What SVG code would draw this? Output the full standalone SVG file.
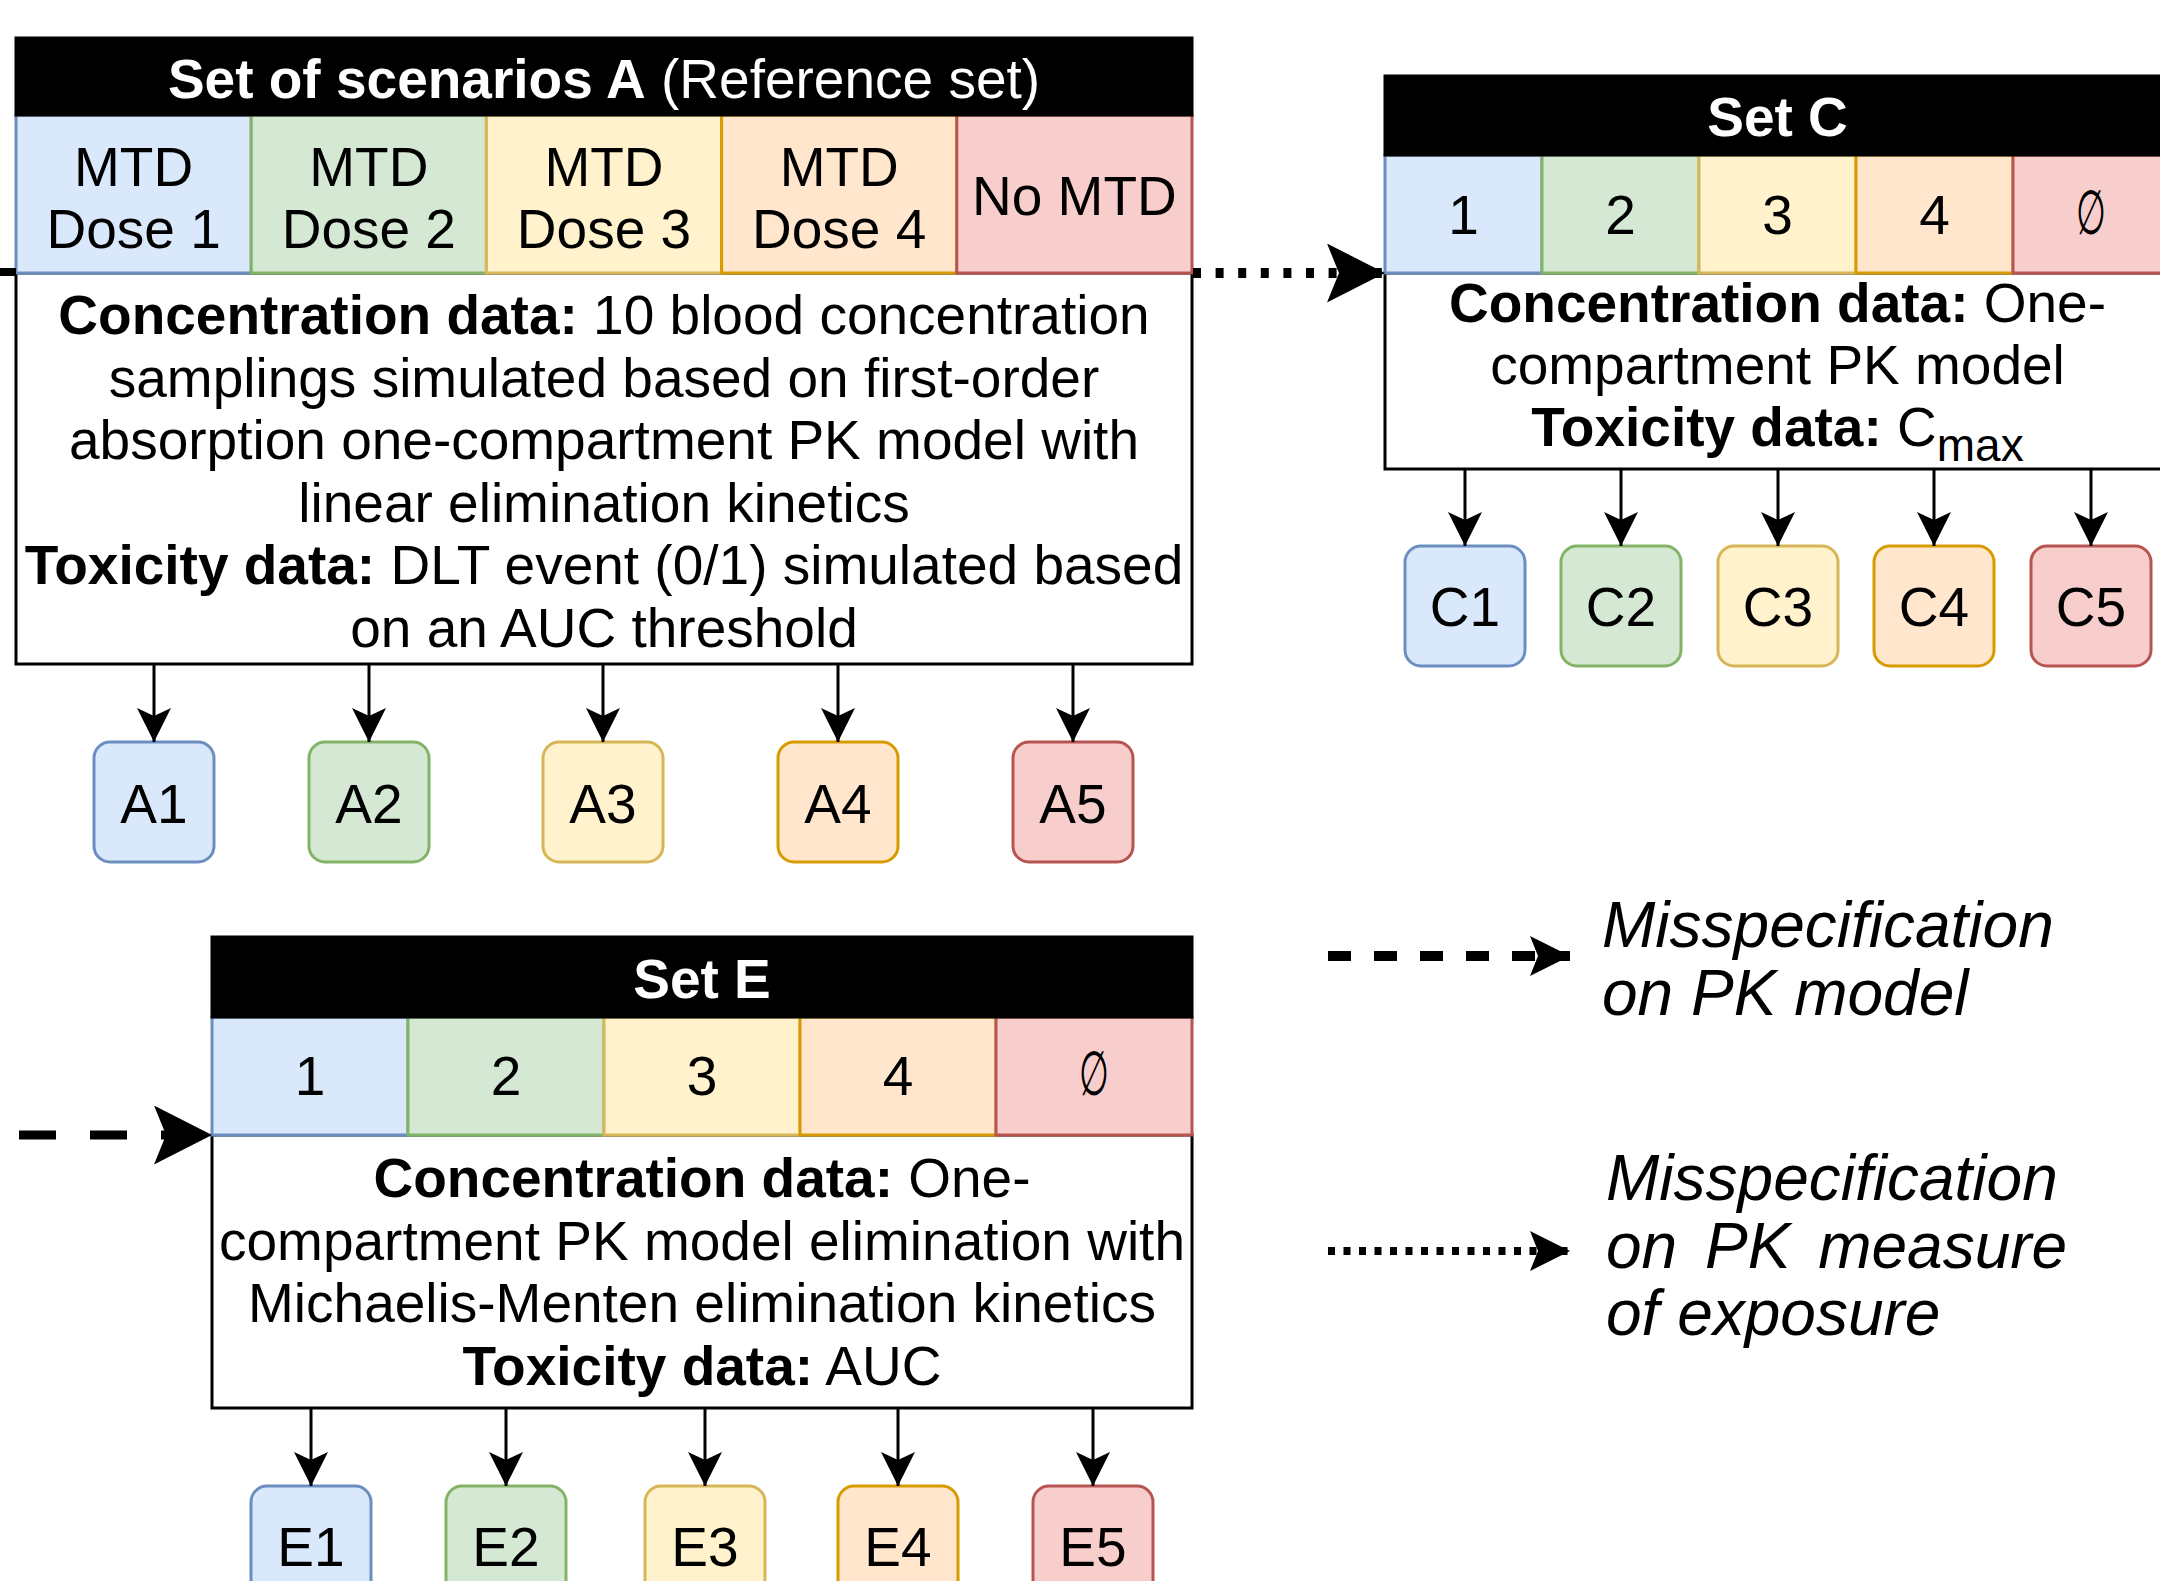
<svg xmlns="http://www.w3.org/2000/svg" width="2160" height="1581" viewBox="0 0 2160 1581">
<defs>
<style>
text { font-family: "Liberation Sans", Arial, Helvetica, sans-serif; font-size: 55px; fill: #000; }
.hd { fill: #fff; font-weight: bold; }
.b { font-weight: bold; }
.lg { font-size: 64px; font-style: italic; }
.box { fill: #fff; stroke: #000; stroke-width: 3; }
.hdr { fill: #000; stroke: #000; stroke-width: 3; }
.blue { fill: #dae8fc; stroke: #6c8ebf; stroke-width: 3; }
.green { fill: #d5e8d4; stroke: #82b366; stroke-width: 3; }
.yellow { fill: #fff2cc; stroke: #d6b656; stroke-width: 3; }
.orange { fill: #ffe6cc; stroke: #d79b00; stroke-width: 3; }
.red { fill: #f8cecc; stroke: #b85450; stroke-width: 3; }
.conn { stroke: #000; stroke-width: 3; fill: none; }
.dotL { stroke: #000; stroke-width: 10; stroke-dasharray: 8 14.6; fill: none; }
.dashL { stroke: #000; stroke-width: 9; stroke-dasharray: 37 34; fill: none; }
.dashM { stroke: #000; stroke-width: 10; stroke-dasharray: 23 23; fill: none; }
.dotM { stroke: #000; stroke-width: 8; stroke-dasharray: 7 8.5; fill: none; }
.mid { text-anchor: middle; }
</style>
<marker id="arrS" markerUnits="userSpaceOnUse" markerWidth="34" markerHeight="34" viewBox="0 0 34 34" refX="34" refY="17" orient="auto"><path d="M0,0 L34,17 L0,34 L8,17 Z" fill="#000"/></marker>
<marker id="arrL" markerUnits="userSpaceOnUse" markerWidth="58" markerHeight="59" viewBox="0 0 58 59" refX="58" refY="29.5" orient="auto"><path d="M0,0 L58,29.5 L0,59 L12,29.5 Z" fill="#000"/></marker>
<marker id="arrM" markerUnits="userSpaceOnUse" markerWidth="40" markerHeight="40" viewBox="0 0 40 40" refX="40" refY="20" orient="auto"><path d="M0,0 L40,20 L0,40 L8,20 Z" fill="#000"/></marker>
</defs>
<rect width="2160" height="1581" fill="#fff"/>

<!-- Set A -->
<g id="setA">
<rect class="box" x="16" y="273" width="1176" height="391"/>
<rect class="blue" x="16" y="115" width="235.2" height="158"/>
<rect class="green" x="251.2" y="115" width="235.2" height="158"/>
<rect class="yellow" x="486.4" y="115" width="235.2" height="158"/>
<rect class="orange" x="721.6" y="115" width="235.2" height="158"/>
<rect class="red" x="956.8" y="115" width="235.2" height="158"/>
<rect class="hdr" x="16" y="38" width="1176" height="77"/>
<text class="mid hd" x="604" y="98"><tspan>Set of scenarios A</tspan><tspan font-weight="normal"> (Reference set)</tspan></text>
<text class="mid" x="133.6" y="186">MTD</text><text class="mid" x="133.6" y="248">Dose 1</text>
<text class="mid" x="368.8" y="186">MTD</text><text class="mid" x="368.8" y="248">Dose 2</text>
<text class="mid" x="604" y="186">MTD</text><text class="mid" x="604" y="248">Dose 3</text>
<text class="mid" x="839.2" y="186">MTD</text><text class="mid" x="839.2" y="248">Dose 4</text>
<text class="mid" x="1074.4" y="215">No MTD</text>
<text class="mid" x="604" y="334"><tspan class="b">Concentration data:</tspan> 10 blood concentration</text>
<text class="mid" x="604" y="396.6">samplings simulated based on first-order</text>
<text class="mid" x="604" y="459.2">absorption one-compartment PK model with</text>
<text class="mid" x="604" y="521.8">linear elimination kinetics</text>
<text class="mid" x="604" y="584.4"><tspan class="b">Toxicity data:</tspan> DLT event (0/1) simulated based</text>
<text class="mid" x="604" y="647">on an AUC threshold</text>
</g>

<!-- Set C -->
<g id="setC">
<rect class="box" x="1385" y="273" width="785" height="196"/>
<rect class="blue" x="1385" y="155" width="157" height="118"/>
<rect class="green" x="1542" y="155" width="157" height="118"/>
<rect class="yellow" x="1699" y="155" width="157" height="118"/>
<rect class="orange" x="1856" y="155" width="157" height="118"/>
<rect class="red" x="2013" y="155" width="157" height="118"/>
<rect class="hdr" x="1385" y="76" width="785" height="79"/>
<text class="mid hd" x="1777.5" y="136">Set C</text>
<text class="mid" x="1463.5" y="234">1</text>
<text class="mid" x="1620.5" y="234">2</text>
<text class="mid" x="1777.5" y="234">3</text>
<text class="mid" x="1934.5" y="234">4</text>
<text class="mid" transform="translate(2091.5,234) scale(0.62,1.12)" x="0" y="0">∅</text>
<text class="mid" x="1777.5" y="322"><tspan class="b">Concentration data:</tspan> One-</text>
<text class="mid" x="1777.5" y="384">compartment PK model</text>
<text class="mid" x="1777.5" y="446"><tspan class="b">Toxicity data:</tspan> C<tspan dy="15" font-size="46">max</tspan></text>
</g>

<!-- Set E -->
<g id="setE">
<rect class="box" x="212" y="1135" width="980" height="273"/>
<rect class="blue" x="212" y="1017" width="196" height="118"/>
<rect class="green" x="408" y="1017" width="196" height="118"/>
<rect class="yellow" x="604" y="1017" width="196" height="118"/>
<rect class="orange" x="800" y="1017" width="196" height="118"/>
<rect class="red" x="996" y="1017" width="196" height="118"/>
<rect class="hdr" x="212" y="937" width="980" height="80"/>
<text class="mid hd" x="702" y="998">Set E</text>
<text class="mid" x="310" y="1095">1</text>
<text class="mid" x="506" y="1095">2</text>
<text class="mid" x="702" y="1095">3</text>
<text class="mid" x="898" y="1095">4</text>
<text class="mid" transform="translate(1094,1095) scale(0.62,1.12)" x="0" y="0">∅</text>
<text class="mid" x="702" y="1197"><tspan class="b">Concentration data:</tspan> One-</text>
<text class="mid" x="702" y="1260">compartment PK model elimination with</text>
<text class="mid" x="702" y="1322">Michaelis-Menten elimination kinetics</text>
<text class="mid" x="702" y="1385"><tspan class="b">Toxicity data:</tspan> AUC</text>
</g>

<!-- Scenario nodes -->
<g id="A1"><rect class="blue" x="94" y="742" width="120" height="120" rx="16"/><text class="mid" x="154" y="823">A1</text></g>
<g id="A2"><rect class="green" x="309" y="742" width="120" height="120" rx="16"/><text class="mid" x="369" y="823">A2</text></g>
<g id="A3"><rect class="yellow" x="543" y="742" width="120" height="120" rx="16"/><text class="mid" x="603" y="823">A3</text></g>
<g id="A4"><rect class="orange" x="778" y="742" width="120" height="120" rx="16"/><text class="mid" x="838" y="823">A4</text></g>
<g id="A5"><rect class="red" x="1013" y="742" width="120" height="120" rx="16"/><text class="mid" x="1073" y="823">A5</text></g>

<g id="C1"><rect class="blue" x="1405" y="546" width="120" height="120" rx="16"/><text class="mid" x="1465" y="626">C1</text></g>
<g id="C2"><rect class="green" x="1561" y="546" width="120" height="120" rx="16"/><text class="mid" x="1621" y="626">C2</text></g>
<g id="C3"><rect class="yellow" x="1718" y="546" width="120" height="120" rx="16"/><text class="mid" x="1778" y="626">C3</text></g>
<g id="C4"><rect class="orange" x="1874" y="546" width="120" height="120" rx="16"/><text class="mid" x="1934" y="626">C4</text></g>
<g id="C5"><rect class="red" x="2031" y="546" width="120" height="120" rx="16"/><text class="mid" x="2091" y="626">C5</text></g>

<g id="E1"><rect class="blue" x="251" y="1486" width="120" height="120" rx="16"/><text class="mid" x="311" y="1566">E1</text></g>
<g id="E2"><rect class="green" x="446" y="1486" width="120" height="120" rx="16"/><text class="mid" x="506" y="1566">E2</text></g>
<g id="E3"><rect class="yellow" x="645" y="1486" width="120" height="120" rx="16"/><text class="mid" x="705" y="1566">E3</text></g>
<g id="E4"><rect class="orange" x="838" y="1486" width="120" height="120" rx="16"/><text class="mid" x="898" y="1566">E4</text></g>
<g id="E5"><rect class="red" x="1033" y="1486" width="120" height="120" rx="16"/><text class="mid" x="1093" y="1566">E5</text></g>

<!-- Legend -->
<g id="legend-dashed">
<text class="lg" x="1602" y="947">Misspecification</text>
<text class="lg" x="1602" y="1015">on PK model</text>
</g>
<g id="legend-dotted">
<text class="lg" x="1606" y="1200">Misspecification</text>
<text class="lg" x="1606" y="1268" word-spacing="10">on PK measure</text>
<text class="lg" x="1606" y="1335">of exposure</text>
</g>

<!-- Connectors -->
<g id="connectors">
<line class="conn" x1="154" y1="664" x2="154" y2="742" marker-end="url(#arrS)"/>
<line class="conn" x1="369" y1="664" x2="369" y2="742" marker-end="url(#arrS)"/>
<line class="conn" x1="603" y1="664" x2="603" y2="742" marker-end="url(#arrS)"/>
<line class="conn" x1="838" y1="664" x2="838" y2="742" marker-end="url(#arrS)"/>
<line class="conn" x1="1073" y1="664" x2="1073" y2="742" marker-end="url(#arrS)"/>

<line class="conn" x1="1465" y1="469" x2="1465" y2="546" marker-end="url(#arrS)"/>
<line class="conn" x1="1621" y1="469" x2="1621" y2="546" marker-end="url(#arrS)"/>
<line class="conn" x1="1778" y1="469" x2="1778" y2="546" marker-end="url(#arrS)"/>
<line class="conn" x1="1934" y1="469" x2="1934" y2="546" marker-end="url(#arrS)"/>
<line class="conn" x1="2091" y1="469" x2="2091" y2="546" marker-end="url(#arrS)"/>

<line class="conn" x1="311" y1="1408" x2="311" y2="1486" marker-end="url(#arrS)"/>
<line class="conn" x1="506" y1="1408" x2="506" y2="1486" marker-end="url(#arrS)"/>
<line class="conn" x1="705" y1="1408" x2="705" y2="1486" marker-end="url(#arrS)"/>
<line class="conn" x1="898" y1="1408" x2="898" y2="1486" marker-end="url(#arrS)"/>
<line class="conn" x1="1093" y1="1408" x2="1093" y2="1486" marker-end="url(#arrS)"/>

<line class="dotL" x1="1193" y1="273" x2="1385" y2="273" marker-end="url(#arrL)"/>
<line class="dashL" x1="19" y1="1135" x2="212" y2="1135" marker-end="url(#arrL)"/>
<line stroke="#000" stroke-width="8" x1="0" y1="272" x2="16" y2="272"/>

<line class="dashM" x1="1328" y1="956" x2="1570" y2="956" marker-end="url(#arrM)"/>
<line class="dotM" x1="1328" y1="1251" x2="1570" y2="1251" marker-end="url(#arrM)"/>
</g>
</svg>
